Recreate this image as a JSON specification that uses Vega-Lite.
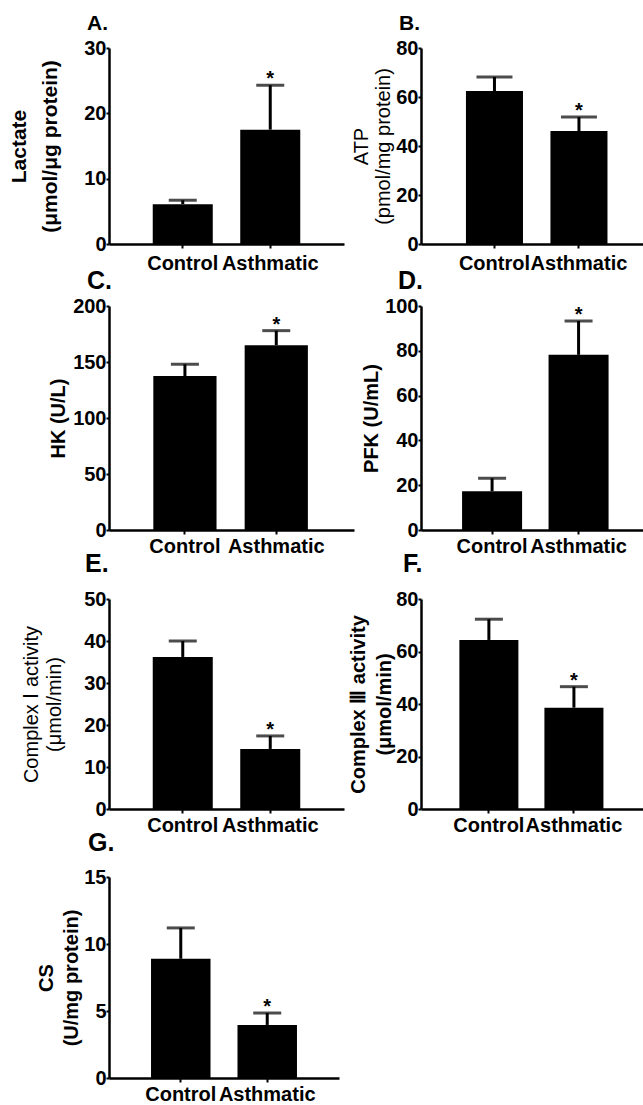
{
  "$schema": "https://vega.github.io/schema/vega-lite/v6.json",
  "background": "white",
  "padding": {"left": 8, "top": 13, "right": 0, "bottom": 0},
  "columns": 2,
  "spacing": {"row": -4, "column": -6},
  "data": {"values": [
    {"panel": "A", "group": "Control", "mean": 6.1, "upper": 6.7, "sig": ""},
    {"panel": "A", "group": "Asthmatic", "mean": 17.5, "upper": 24.3, "sig": "*"},
    {"panel": "B", "group": "Control", "mean": 62.4, "upper": 68.2, "sig": ""},
    {"panel": "B", "group": "Asthmatic", "mean": 46.1, "upper": 51.8, "sig": "*"},
    {"panel": "C", "group": "Control", "mean": 137.5, "upper": 148, "sig": ""},
    {"panel": "C", "group": "Asthmatic", "mean": 165, "upper": 178, "sig": "*"},
    {"panel": "D", "group": "Control", "mean": 17.3, "upper": 23.1, "sig": ""},
    {"panel": "D", "group": "Asthmatic", "mean": 78.2, "upper": 93.3, "sig": "*"},
    {"panel": "E", "group": "Control", "mean": 36.2, "upper": 40.0, "sig": ""},
    {"panel": "E", "group": "Asthmatic", "mean": 14.3, "upper": 17.4, "sig": "*"},
    {"panel": "F", "group": "Control", "mean": 64.4, "upper": 72.3, "sig": ""},
    {"panel": "F", "group": "Asthmatic", "mean": 38.6, "upper": 46.6, "sig": "*"},
    {"panel": "G", "group": "Control", "mean": 8.9, "upper": 11.2, "sig": ""},
    {"panel": "G", "group": "Asthmatic", "mean": 3.96, "upper": 4.85, "sig": "*"}
  ]},
  "concat": [
    {
      "width": 235, "height": 196,
      "title": {"text": "A.", "offset": 4, "fontSize": 21, "dx": -22},
      "transform": [{"filter": "datum.panel === 'A'"}],
      "encoding": {"x": {"field": "group", "type": "nominal", "sort": ["Control", "Asthmatic"], "scale": {"paddingInner": 0.314, "paddingOuter": 0.5, "align": 0.5}, "axis": {"title": null, "labelPadding": 5}}},
      "layer": [
        {"mark": {"type": "bar", "color": "black"}, "encoding": {"y": {"field": "mean", "type": "quantitative", "scale": {"domain": [0, 30], "nice": false}, "axis": {"values": [0, 10, 20, 30], "title": ["Lactate", "(μmol/μg protein)"], "titleFontSize": 21, "titleLineHeight": 31, "titlePadding": 23}}}},
        {"mark": {"type": "rule", "color": "black", "strokeWidth": 3}, "encoding": {"y": {"field": "mean", "type": "quantitative"}, "y2": {"field": "upper"}}},
        {"mark": {"type": "tick", "color": "black", "thickness": 3, "size": 28}, "encoding": {"y": {"field": "upper", "type": "quantitative"}}},
        {"mark": {"type": "text", "font": "Liberation Sans", "fontWeight": "bold", "fontSize": 20, "baseline": "alphabetic", "dy": 0}, "encoding": {"y": {"field": "upper", "type": "quantitative"}, "text": {"field": "sig"}}}
      ]
    },
    {
      "width": 224, "height": 196,
      "title": {"text": "B.", "offset": 4, "fontSize": 21, "dx": -22},
      "transform": [{"filter": "datum.panel === 'B'"}],
      "encoding": {"x": {"field": "group", "type": "nominal", "sort": ["Control", "Asthmatic"], "scale": {"paddingInner": 0.325, "paddingOuter": 0.488, "align": 0.545}, "axis": {"title": null, "labelPadding": 5}}},
      "layer": [
        {"mark": {"type": "bar", "color": "black"}, "encoding": {"y": {"field": "mean", "type": "quantitative", "scale": {"domain": [0, 80], "nice": false}, "axis": {"values": [0, 20, 40, 60, 80], "title": ["ATP", "(pmol/mg protein)"], "titleFontWeight": "normal", "titleFontSize": 20, "titleLineHeight": 22, "titlePadding": 2}}}},
        {"mark": {"type": "rule", "color": "black", "strokeWidth": 3}, "encoding": {"y": {"field": "mean", "type": "quantitative"}, "y2": {"field": "upper"}}},
        {"mark": {"type": "tick", "color": "black", "thickness": 3, "size": 36}, "encoding": {"y": {"field": "upper", "type": "quantitative"}}},
        {"mark": {"type": "text", "font": "Liberation Sans", "fontWeight": "bold", "fontSize": 20, "baseline": "alphabetic", "dy": 0}, "encoding": {"y": {"field": "upper", "type": "quantitative"}, "text": {"field": "sig"}}}
      ]
    },
    {
      "width": 245, "height": 224,
      "title": {"text": "C.", "offset": 2, "dx": -22},
      "transform": [{"filter": "datum.panel === 'C'"}],
      "encoding": {"x": {"field": "group", "type": "nominal", "sort": ["Control", "Asthmatic"], "scale": {"paddingInner": 0.308, "paddingOuter": 0.495, "align": 0.49}, "axis": {"title": null}}},
      "layer": [
        {"mark": {"type": "bar", "color": "black"}, "encoding": {"y": {"field": "mean", "type": "quantitative", "scale": {"domain": [0, 200], "nice": false}, "axis": {"values": [0, 50, 100, 150, 200], "title": "HK (U/L)", "titleFontSize": 20, "titlePadding": 4}}}},
        {"mark": {"type": "rule", "color": "black", "strokeWidth": 3}, "encoding": {"y": {"field": "mean", "type": "quantitative"}, "y2": {"field": "upper"}}},
        {"mark": {"type": "tick", "color": "black", "thickness": 3, "size": 28}, "encoding": {"y": {"field": "upper", "type": "quantitative"}}},
        {"mark": {"type": "text", "font": "Liberation Sans", "fontWeight": "bold", "fontSize": 20, "baseline": "alphabetic", "dy": 0}, "encoding": {"y": {"field": "upper", "type": "quantitative"}, "text": {"field": "sig"}}}
      ]
    },
    {
      "width": 224, "height": 224,
      "title": {"text": "D.", "offset": 2, "dx": -23},
      "transform": [{"filter": "datum.panel === 'D'"}],
      "encoding": {"x": {"field": "group", "type": "nominal", "sort": ["Control", "Asthmatic"], "scale": {"paddingInner": 0.306, "paddingOuter": 0.448, "align": 0.53}, "axis": {"title": null}}},
      "layer": [
        {"mark": {"type": "bar", "color": "black"}, "encoding": {"y": {"field": "mean", "type": "quantitative", "scale": {"domain": [0, 100], "nice": false}, "axis": {"values": [0, 20, 40, 60, 80, 100], "title": "PFK (U/mL)", "titleFontSize": 20, "titlePadding": 3}}}},
        {"mark": {"type": "rule", "color": "black", "strokeWidth": 3}, "encoding": {"y": {"field": "mean", "type": "quantitative"}, "y2": {"field": "upper"}}},
        {"mark": {"type": "tick", "color": "black", "thickness": 3, "size": 28}, "encoding": {"y": {"field": "upper", "type": "quantitative"}}},
        {"mark": {"type": "text", "font": "Liberation Sans", "fontWeight": "bold", "fontSize": 20, "baseline": "alphabetic", "dy": 0}, "encoding": {"y": {"field": "upper", "type": "quantitative"}, "text": {"field": "sig"}}}
      ]
    },
    {
      "width": 235, "height": 210,
      "title": {"text": "E.", "offset": 12, "dx": -24},
      "transform": [{"filter": "datum.panel === 'E'"}],
      "encoding": {"x": {"field": "group", "type": "nominal", "sort": ["Control", "Asthmatic"], "scale": {"paddingInner": 0.314, "paddingOuter": 0.5, "align": 0.5}, "axis": {"title": null}}},
      "layer": [
        {"mark": {"type": "bar", "color": "black"}, "encoding": {"y": {"field": "mean", "type": "quantitative", "scale": {"domain": [0, 50], "nice": false}, "axis": {"values": [0, 10, 20, 30, 40, 50], "title": ["Complex Ⅰ activity", "(μmol/min)"], "titleFontWeight": "normal", "titleFontSize": 20, "titleLineHeight": 23, "titlePadding": 19}}}},
        {"mark": {"type": "rule", "color": "black", "strokeWidth": 3}, "encoding": {"y": {"field": "mean", "type": "quantitative"}, "y2": {"field": "upper"}}},
        {"mark": {"type": "tick", "color": "black", "thickness": 3, "size": 28}, "encoding": {"y": {"field": "upper", "type": "quantitative"}}},
        {"mark": {"type": "text", "font": "Liberation Sans", "fontWeight": "bold", "fontSize": 20, "baseline": "alphabetic", "dy": 0}, "encoding": {"y": {"field": "upper", "type": "quantitative"}, "text": {"field": "sig"}}}
      ]
    },
    {
      "width": 224, "height": 210,
      "title": {"text": "F.", "offset": 12, "dx": -18},
      "transform": [{"filter": "datum.panel === 'F'"}],
      "encoding": {"x": {"field": "group", "type": "nominal", "sort": ["Control", "Asthmatic"], "scale": {"paddingInner": 0.306, "paddingOuter": 0.47, "align": 0.48}, "axis": {"title": null}}},
      "layer": [
        {"mark": {"type": "bar", "color": "black"}, "encoding": {"y": {"field": "mean", "type": "quantitative", "scale": {"domain": [0, 80], "nice": false}, "axis": {"values": [0, 20, 40, 60, 80], "title": ["Complex Ⅲ activity", "(μmol/min)"], "titleFontSize": 20, "titleLineHeight": 26, "titlePadding": 1}}}},
        {"mark": {"type": "rule", "color": "black", "strokeWidth": 3}, "encoding": {"y": {"field": "mean", "type": "quantitative"}, "y2": {"field": "upper"}}},
        {"mark": {"type": "tick", "color": "black", "thickness": 3, "size": 28}, "encoding": {"y": {"field": "upper", "type": "quantitative"}}},
        {"mark": {"type": "text", "font": "Liberation Sans", "fontWeight": "bold", "fontSize": 20, "baseline": "alphabetic", "dy": 0}, "encoding": {"y": {"field": "upper", "type": "quantitative"}, "text": {"field": "sig"}}}
      ]
    },
    {
      "width": 230, "height": 201,
      "title": {"text": "G.", "offset": 11, "dx": -21},
      "transform": [{"filter": "datum.panel === 'G'"}],
      "encoding": {"x": {"field": "group", "type": "nominal", "sort": ["Control", "Asthmatic"], "scale": {"paddingInner": 0.312, "paddingOuter": 0.486, "align": 0.5}, "axis": {"title": null}}},
      "layer": [
        {"mark": {"type": "bar", "color": "black"}, "encoding": {"y": {"field": "mean", "type": "quantitative", "scale": {"domain": [0, 15], "nice": false}, "axis": {"values": [0, 5, 10, 15], "title": ["CS", "(U/mg protein)"], "titleFontSize": 20, "titleLineHeight": 25, "titlePadding": 2}}}},
        {"mark": {"type": "rule", "color": "black", "strokeWidth": 3}, "encoding": {"y": {"field": "mean", "type": "quantitative"}, "y2": {"field": "upper"}}},
        {"mark": {"type": "tick", "color": "black", "thickness": 3, "size": 28}, "encoding": {"y": {"field": "upper", "type": "quantitative"}}},
        {"mark": {"type": "text", "font": "Liberation Sans", "fontWeight": "bold", "fontSize": 20, "baseline": "alphabetic", "dy": 0}, "encoding": {"y": {"field": "upper", "type": "quantitative"}, "text": {"field": "sig"}}}
      ]
    }
  ],
  "config": {
    "view": {"stroke": null},
    "font": "Liberation Sans",
    "axis": {"domainColor": "black", "domainWidth": 2.5, "tickColor": "black", "tickWidth": 2, "tickSize": 4, "labelColor": "black", "labelFont": "Liberation Sans", "labelFontWeight": "bold", "labelFontSize": 20, "titleColor": "black", "titleFont": "Liberation Sans", "titleFontWeight": "bold", "titleFontSize": 20, "grid": false},
    "axisX": {"labelAngle": 0, "labelPadding": 2, "labelOverlap": false, "labelFontSize": 20, "tickSize": 4},
    "axisY": {"labelPadding": 0, "tickSize": 3},
    "title": {"anchor": "start", "frame": "group", "fontSize": 25, "fontWeight": "bold", "font": "Liberation Sans", "color": "black"}
  }
}
